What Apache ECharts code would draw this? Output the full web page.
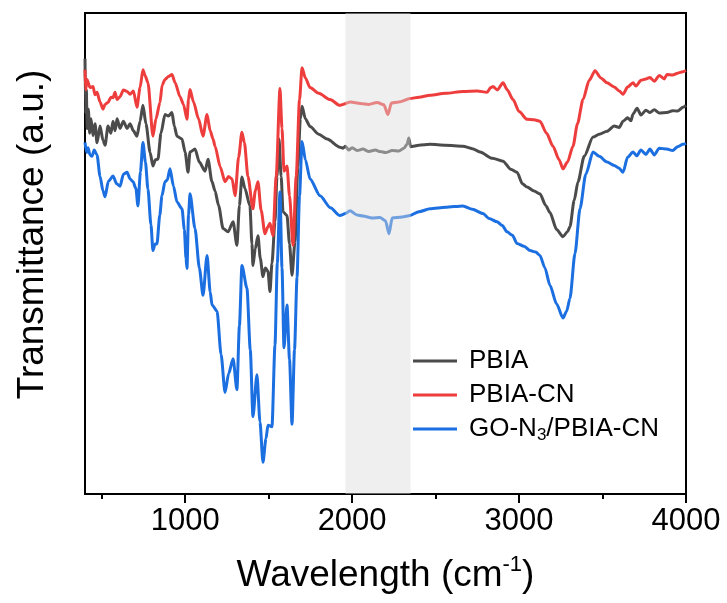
<!DOCTYPE html>
<html>
<head>
<meta charset="utf-8">
<script src="https://cdn.jsdelivr.net/npm/echarts@6/dist/echarts.min.js"></script>
<style>
html, body { margin: 0; padding: 0; background: #fff; }
#ftir { width: 727px; height: 603px; }
</style>
</head>
<body>
<div id="ftir"></div>
<script type="text/javascript">

// spectra: [wavenumber, transmittance (a.u.)]
var pbia = [[400, 90.5], [404, 79], [408, 84], [413, 76], [420, 80], [428, 75], [436, 78], [448, 74.5], [460, 77], [472, 73], [490, 76.5], [508, 73.5], [520, 72.5], [538, 76.5], [555, 75], [568, 77.5], [580, 75.5], [592, 78], [610, 76], [630, 77.5], [652, 76], [670, 77], [690, 75.5], [711, 74.4], [730, 77.5], [747, 80.8], [765, 77], [790, 71], [807, 68.2], [822, 69.5], [837, 69.6], [855, 75], [879, 78.9], [900, 78.6], [921, 79.3], [935, 76.5], [951, 74.4], [981, 73.8], [1000, 71], [1017, 66.9], [1029, 71.1], [1059, 71.7], [1085, 69], [1119, 67.1], [1137, 69.6], [1160, 65], [1179, 63], [1200, 60], [1227, 55.2], [1257, 54.5], [1287, 56.6], [1310, 51.7], [1325, 60], [1340, 65.9], [1358, 63.5], [1388, 59.9], [1400, 52], [1406, 47.5], [1420, 51], [1436, 53.7], [1450, 49], [1466, 45.2], [1480, 47], [1496, 46.3], [1508, 42.1], [1520, 48], [1538, 56.6], [1550, 66], [1562, 73.8], [1575, 66], [1586, 58.7], [1610, 57.9], [1625, 52], [1640, 45.5], [1658, 52.5], [1675, 68], [1690, 78], [1700, 80.6], [1720, 78], [1748, 76.4], [1800, 74.8], [1850, 73.8], [1927, 72.1], [1945, 71.9], [1960, 72.3], [1980, 71.5], [2000, 72], [2030, 71.4], [2065, 71.7], [2100, 71.2], [2140, 71.5], [2167, 71.2], [2200, 71.0], [2240, 71.4], [2280, 71.3], [2310, 71.9], [2329, 72.7], [2340, 74.0], [2350, 72.2], [2400, 72.5], [2467, 72.7], [2560, 72.5], [2664, 72.3], [2720, 71.8], [2766, 71.1], [2840, 69.8], [2904, 69.2], [2950, 67.5], [2988, 66.9], [3020, 64.5], [3048, 63.8], [3090, 63], [3125, 62.4], [3160, 60], [3185, 58.5], [3225, 55], [3263, 53.5], [3290, 54.5], [3305, 55.6], [3330, 61], [3353, 64.9], [3390, 70.2], [3443, 74.2], [3480, 74.8], [3527, 75.4], [3570, 76.5], [3600, 76.2], [3623, 77.5], [3650, 78.2], [3670, 77.6], [3683, 79], [3707, 80.2], [3730, 78.8], [3760, 79.8], [3784, 79.3], [3810, 79.9], [3840, 79.2], [3886, 79.3], [3920, 79.7], [3950, 79.6], [3982, 80.4], [4000, 80.8]];

var pbiaCN = [[400, 88.2], [404, 84], [412, 86.2], [430, 84.5], [448, 84.7], [460, 83], [472, 83.5], [490, 81.5], [508, 80.0], [520, 81], [538, 81.4], [555, 82.5], [568, 82.4], [580, 83.5], [592, 82], [610, 82.6], [630, 84], [652, 83.7], [670, 83.1], [690, 83.8], [711, 80.4], [730, 84.5], [747, 88.2], [760, 87], [777, 85.5], [807, 74.4], [825, 78], [849, 81.4], [862, 85], [879, 86.2], [900, 86.8], [921, 87.2], [940, 85.5], [969, 82.6], [990, 81], [1011, 77.9], [1020, 82], [1029, 84.1], [1050, 81.5], [1080, 78], [1107, 74.4], [1131, 78.9], [1150, 75.5], [1167, 73.8], [1179, 72.3], [1210, 68], [1239, 64.9], [1260, 66], [1281, 65.5], [1299, 62.0], [1320, 70], [1340, 75.2], [1355, 73], [1376, 66], [1406, 59.3], [1420, 63], [1436, 64.9], [1455, 59], [1478, 54.1], [1495, 55.5], [1508, 56.3], [1526, 53.7], [1545, 66], [1568, 84.3], [1580, 76], [1592, 67.1], [1610, 68.2], [1625, 62], [1646, 51.7], [1665, 66], [1685, 82], [1700, 88.6], [1720, 86.5], [1748, 84.5], [1800, 83.3], [1868, 82.0], [1927, 80.8], [1945, 81.0], [1990, 81.5], [2050, 81.2], [2100, 81.0], [2150, 81.4], [2190, 80.9], [2215, 78.9], [2235, 81.3], [2280, 81.5], [2347, 82.2], [2400, 82.5], [2467, 82.9], [2560, 83.3], [2664, 83.7], [2750, 83.8], [2808, 83.5], [2830, 84.5], [2844, 84.7], [2870, 84.0], [2904, 85.5], [2930, 84], [2964, 82.0], [3000, 79.5], [3048, 77.9], [3090, 77.8], [3125, 77.5], [3165, 75], [3203, 72.3], [3240, 69.5], [3263, 67.6], [3290, 69], [3323, 72.3], [3350, 77], [3383, 82.0], [3420, 86], [3455, 88.0], [3490, 86.5], [3527, 85.5], [3570, 84.6], [3600, 83.8], [3623, 83.1], [3650, 84.6], [3683, 85.5], [3700, 84.8], [3730, 86], [3760, 86.3], [3784, 86.6], [3810, 85.8], [3840, 87], [3870, 86.3], [3886, 87.2], [3920, 87.1], [3950, 87.5], [3982, 87.8], [4000, 88.0]];

var goN3 = [[400, 73.1], [410, 71], [418, 72], [430, 70.5], [442, 70.2], [455, 71.5], [472, 70.5], [490, 66], [508, 63], [520, 61.8], [540, 65], [568, 66.1], [590, 64.5], [610, 64.0], [630, 66.5], [652, 66.9], [670, 65.5], [688, 64.9], [705, 63.5], [717, 59.9], [732, 67], [747, 73.1], [762, 69], [777, 63.4], [795, 56], [807, 50.6], [820, 52], [831, 52], [848, 58], [861, 62.0], [879, 64.9], [893, 65.3], [909, 67.6], [930, 64], [951, 60.7], [981, 59.3], [995, 55], [1005, 49], [1011, 46.9], [1020, 58], [1029, 62.4], [1059, 55.2], [1085, 47], [1107, 41.3], [1131, 49.6], [1150, 42], [1161, 39.3], [1191, 38.0], [1215, 29], [1239, 21.1], [1260, 25], [1287, 28.1], [1310, 21.7], [1325, 35], [1340, 47.5], [1370, 42.8], [1390, 30], [1406, 16.1], [1430, 24.8], [1448, 15], [1466, 6.6], [1484, 11.5], [1496, 14.3], [1520, 14], [1538, 31.0], [1552, 48], [1568, 62.8], [1580, 47], [1592, 30.4], [1610, 39.3], [1625, 28], [1640, 14.5], [1655, 30], [1670, 45], [1685, 62], [1700, 73.3], [1720, 69.5], [1748, 65.5], [1808, 62.0], [1870, 59.5], [1927, 57.9], [1960, 58.3], [1987, 58.9], [2030, 58.0], [2065, 57.8], [2120, 57.4], [2167, 57.5], [2200, 56.8], [2221, 54.1], [2240, 57.4], [2300, 57.6], [2347, 57.9], [2400, 58.7], [2467, 59.3], [2560, 59.6], [2664, 59.9], [2720, 59.2], [2784, 58.3], [2820, 57.3], [2868, 56.6], [2900, 55.8], [2928, 54.5], [2960, 53.8], [2988, 52.1], [3030, 51.5], [3066, 50.6], [3100, 50.3], [3125, 49.6], [3155, 47], [3185, 43.4], [3225, 39.5], [3263, 36.6], [3285, 38], [3305, 40.7], [3335, 50], [3365, 59.3], [3400, 66.5], [3443, 71.1], [3480, 70.2], [3527, 69.0], [3570, 68.3], [3600, 67.7], [3623, 66.9], [3650, 70], [3683, 71.1], [3705, 70.3], [3730, 71.5], [3760, 70.6], [3784, 71.7], [3810, 70.5], [3840, 71.9], [3886, 71.7], [3920, 71.4], [3950, 72.2], [3982, 72.7], [4000, 72.9]];

var seriesNames = ['PBIA', 'PBIA-CN', 'GO-N3/PBIA-CN'];
var majorTicks = [1000, 2000, 3000, 4000];
var minorTicks = [500, 1500, 2500, 3500];
var shadeRange = [1960, 2350];

var font = 'Liberation Sans, Arial, sans-serif';

function line(name, data, color) {
    return {
        name: name,
        type: 'line',
        data: data,
        showSymbol: false,
        symbol: 'none',
        smooth: 0.25,
        smoothMonotone: 'x',
        lineStyle: { color: color, width: 3 },
        itemStyle: { color: color },
        z: 2
    };
}

var option = {
    animation: false,
    backgroundColor: '#fff',
    grid: {
        left: 85, right: 41, top: 13, bottom: 106,
        show: true,
        borderColor: '#000',
        borderWidth: 2,
        backgroundColor: 'transparent'
    },
    legend: {
        data: seriesNames,
        orient: 'vertical',
        left: 408,
        top: 341,
        icon: 'rect',
        itemWidth: 44,
        itemHeight: 3,
        itemGap: 4,
        textStyle: {
            fontFamily: font,
            fontSize: 26,
            color: '#000',
            lineHeight: 30,
            padding: [0, 0, 0, 7],
            rich: {
                sub: { fontFamily: font, fontSize: 17, verticalAlign: 'bottom', lineHeight: 30, padding: [12, 0, 0, 0] }
            }
        },
        formatter: function (name) {
            return name === 'GO-N3/PBIA-CN' ? 'GO-N{sub|3}/PBIA-CN' : name;
        }
    },
    xAxis: [{
        type: 'value',
        min: 400,
        max: 4000,
        name: 'Wavelength (cm{sup|-1})',
        nameLocation: 'middle',
        nameGap: 60,
        nameTextStyle: {
            fontFamily: font,
            fontSize: 37,
            color: '#000',
            lineHeight: 44,
            rich: {
                sup: { fontFamily: font, fontSize: 22, verticalAlign: 'top', lineHeight: 44, padding: [0, 0, 14, 0] }
            }
        },
        axisLine: { show: true, onZero: false, lineStyle: { color: '#000', width: 2 } },
        axisTick: { show: true, customValues: majorTicks, length: 9, lineStyle: { color: '#000', width: 2 } },
        axisLabel: {
            customValues: majorTicks,
            margin: 12,
            fontFamily: font,
            fontSize: 31,
            color: '#000',
            formatter: function (v) { return String(v); }
        },
        splitLine: { show: false }
    }, {
        type: 'value',
        min: 400,
        max: 4000,
        position: 'bottom',
        axisLine: { show: false },
        axisTick: { show: true, customValues: minorTicks, length: 5, lineStyle: { color: '#000', width: 2 } },
        axisLabel: { show: false },
        splitLine: { show: false }
    }],
    yAxis: {
        type: 'value',
        min: 0,
        max: 100,
        name: 'Transmittance (a.u.)',
        nameLocation: 'middle',
        nameGap: 34,
        nameTextStyle: {
            fontFamily: font,
            fontSize: 37,
            color: '#000',
            padding: [0, 0, 0, 38]
        },
        axisLine: { show: true, lineStyle: { color: '#000', width: 2 } },
        axisTick: { show: false },
        axisLabel: { show: false },
        splitLine: { show: false }
    },
    series: [
        line(seriesNames[0], pbia, '#4b4b4b'),
        line(seriesNames[1], pbiaCN, '#ee3d3d'),
        line(seriesNames[2], goN3, '#1b6fe0'),
        {
            name: 'shade',
            type: 'line',
            data: [],
            z: 10,
            markArea: {
                silent: true,
                z: 10,
                itemStyle: { color: 'rgba(220,220,220,0.45)' },
                data: [[{ xAxis: shadeRange[0] }, { xAxis: shadeRange[1] }]]
            }
        }
    ]
};

var chart = echarts.init(document.getElementById('ftir'));
chart.setOption(option);
</script>
</body>
</html>
